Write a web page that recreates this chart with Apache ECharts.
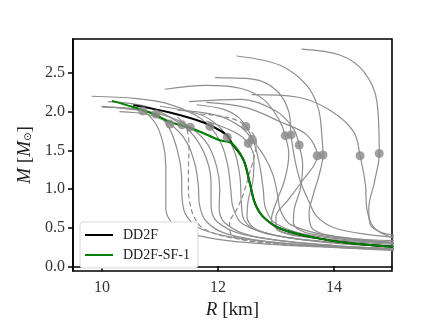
<!DOCTYPE html>
<html><head><meta charset="utf-8">
<script src="https://cdn.jsdelivr.net/npm/echarts@6/dist/echarts.min.js"></script>
<style>html,body{margin:0;padding:0;background:#fff}#c{width:436px;height:327px}</style>
</head><body><div id="c"></div>
<script>
// ---- data: [R (km), M (Msun)] ----
const g1 = [[10.0,2.06],[10.4,2.05],[10.70,2.01],[10.92,1.85],[11.05,1.6],[11.1,1.3],[11.1,1.0],[11.1,0.75],[11.22,0.55],[11.5,0.43],[12.2,0.33],[13.5,0.26],[15.2,0.21]];
const g2 = [[9.99,2.07],[10.5,2.03],[10.93,1.97],[11.15,1.8],[11.3,1.5],[11.37,1.2],[11.38,0.9],[11.45,0.66],[11.75,0.47],[12.6,0.34],[14,0.26],[15.2,0.23]];
const g3 = [[10.3,2.0],[10.8,1.96],[11.17,1.84],[11.45,1.62],[11.6,1.33],[11.66,1.05],[11.68,0.8],[11.8,0.58],[12.15,0.42],[13.1,0.3],[15.2,0.2]];
const g4 = [[10.1,2.13],[10.8,2.06],[11.38,1.83],[11.65,1.62],[11.82,1.35],[11.88,1.08],[11.88,0.8],[11.98,0.58],[12.45,0.41],[13.6,0.29],[15.2,0.22]];
const g5 = [[10.5,2.04],[11.1,1.95],[11.52,1.80],[11.82,1.58],[11.98,1.28],[12.03,1.0],[12.02,0.76],[12.12,0.56],[12.6,0.39],[14,0.27],[15.2,0.23]];
const g6 = [[9.82,2.20],[10.6,2.17],[11.1,2.11],[11.6,1.96],[11.86,1.81],[12.06,1.58],[12.17,1.3],[12.22,1.0],[12.26,0.76],[12.42,0.55],[13,0.4],[14,0.3],[15.2,0.25]];
const g7 = [[11.0,2.07],[11.7,1.96],[12.0,1.82],[12.16,1.67],[12.3,1.45],[12.38,1.15],[12.4,0.85],[12.45,0.6],[12.8,0.43],[14,0.31],[15.2,0.26]];
const g8 = [[11.63,2.09],[12.1,2.03],[12.35,1.93],[12.48,1.81],[12.62,1.6],[12.72,1.3],[12.78,1.0],[12.82,0.75],[13.0,0.55],[13.6,0.4],[15.2,0.29]];
const g9 = [[11.3,2.02],[12.0,1.95],[12.4,1.8],[12.59,1.64],[12.8,1.42],[12.95,1.18],[13.02,0.95],[13.08,0.72],[13.25,0.54],[13.9,0.4],[15.2,0.3]];
const g10 = [[11.8,1.88],[12.3,1.73],[12.52,1.59],[12.62,1.4],[12.6,1.1],[12.52,0.85],[12.5,0.64],[12.68,0.47],[13.4,0.35],[15.2,0.26]];
const g11 = [[11.08,2.29],[11.8,2.34],[12.4,2.3],[12.8,2.15],[13.05,1.9],[13.16,1.69],[13.22,1.45],[13.15,1.12],[13.0,0.82],[12.92,0.6],[13.1,0.45],[14,0.34],[15.2,0.28]];
const g12 = [[11.95,2.44],[12.6,2.42],[13.0,2.28],[13.22,2.0],[13.26,1.70],[13.32,1.4],[13.42,1.1],[13.56,0.85],[13.7,0.65],[14.0,0.5],[14.6,0.41],[15.2,0.37]];
const g13 = [[11.5,2.13],[12.4,2.16],[13.0,2.01],[13.3,1.78],[13.40,1.57],[13.46,1.3],[13.42,1.0],[13.32,0.76],[13.3,0.56],[13.6,0.42],[15.2,0.3]];
const g14 = [[11.8,2.12],[12.5,2.05],[13.07,1.87],[13.53,1.70],[13.71,1.43],[13.45,1.1],[13.2,0.85],[13.0,0.64],[13.0,0.5],[13.5,0.38],[15.2,0.3]];
const g15 = [[12.32,2.72],[13.07,2.6],[13.53,2.34],[13.73,2.04],[13.79,1.70],[13.81,1.44],[13.75,1.2],[13.64,0.92],[13.57,0.69],[13.64,0.48],[14.2,0.37],[15.2,0.33]];
const g16 = [[12.58,2.22],[13.36,2.19],[13.93,2.02],[14.34,1.74],[14.45,1.43],[14.54,1.07],[14.57,0.73],[14.68,0.51],[14.97,0.38],[15.2,0.36]];
const g17 = [[13.44,2.81],[14.11,2.73],[14.51,2.52],[14.74,2.13],[14.78,1.46],[14.7,1.1],[14.6,0.75],[14.62,0.55],[14.85,0.43],[15.2,0.4]];
const dash1 = [[11.3,1.93],[11.45,1.8],[11.5,1.55],[11.49,1.25],[11.49,1.0],[11.52,0.8],[11.6,0.62],[11.77,0.48],[12.3,0.36],[13.5,0.27],[15.2,0.22]];
const dash2 = [[11.7,1.97],[12.2,1.92],[12.47,1.82],[12.66,1.6],[12.6,1.35],[12.52,1.15],[12.44,0.94],[12.32,0.73],[12.2,0.56],[12.22,0.42],[12.6,0.32],[14,0.25],[15.2,0.22]];
const dots = [[10.70,2.01],[10.93,1.97],[11.17,1.84],[11.38,1.83],[11.52,1.80],[11.86,1.81],[12.16,1.67],[12.48,1.81],[12.59,1.64],[12.52,1.59],[13.16,1.69],[13.26,1.70],[13.40,1.57],[13.71,1.43],[13.81,1.44],[14.45,1.43],[14.78,1.46]];
const dd2fLow = [[15.2,0.245],[14.22,0.305],[13.64,0.375],[13.07,0.49],[12.78,0.64],[12.64,0.81],[12.55,1.07],[12.44,1.375],[12.24,1.59]];
const dd2fUpper = [[12.15,1.70],[11.75,1.86],[11.17,1.99],[10.54,2.085]];
const sfUpper = [[12.03,1.63],[11.63,1.76],[11.17,1.87],[10.88,1.97],[10.54,2.06],[10.17,2.14]];
const xTicks = [10, 12, 14];
const yTicks = [0, 0.5, 1.0, 1.5, 2.0, 2.5];

const serif = 'Liberation Serif';
const greyCurves = [g1,g2,g3,g4,g5,g6,g7,g8,g9,g10,g11,g12,g13,g14,g15,g16,g17];
const series = [];
greyCurves.forEach((d, i) => series.push({
  type: 'line', name: 'grey' + i, data: d, showSymbol: false, symbol: 'none', smooth: 0.35,
  silent: true, z: 1, lineStyle: { color: '#8e8e8e', width: 1.2 }
}));
[dash1, dash2].forEach((d, i) => series.push({
  type: 'line', name: 'dash' + i, data: d, showSymbol: false, symbol: 'none', smooth: 0.35,
  silent: true, z: 1, lineStyle: { color: '#8e8e8e', width: 1.2, type: [5, 3] }
}));
series.push({
  type: 'line', name: 'DD2F', data: dd2fLow.concat(dd2fUpper), showSymbol: false, symbol: 'none',
  smooth: 0.35, z: 3, lineStyle: { color: '#000', width: 2 }, itemStyle: { color: '#000' }
});
series.push({
  type: 'line', name: 'DD2F-SF-1', data: dd2fLow.concat(sfUpper), showSymbol: false, symbol: 'none',
  smooth: 0.35, z: 4, lineStyle: { color: '#008000', width: 2 }, itemStyle: { color: '#008000' }
});
series.push({
  type: 'scatter', name: 'dots', data: dots, symbolSize: 9, z: 5,
  itemStyle: { color: '#888888' }
});

const chart = echarts.init(document.getElementById('c'), null, { renderer: 'canvas' });
chart.setOption({
  animation: false,
  backgroundColor: '#fff',
  grid: { left: 73, right: 44, top: 39, bottom: 56, show: true, borderColor: '#000', borderWidth: 1.6, backgroundColor: 'transparent' },
  legend: {
    data: [{ name: 'DD2F', icon: 'rect' }, { name: 'DD2F-SF-1', icon: 'rect' }],
    orient: 'vertical', left: 80, top: 222,
    itemWidth: 28, itemHeight: 2, itemGap: 6, padding: [6, 8, 6, 5],
    backgroundColor: '#fff', borderColor: '#d8d8d8', borderWidth: 1, borderRadius: 3,
    textStyle: { fontFamily: serif, fontSize: 14, color: '#222', padding: [0, 0, 0, 5], lineHeight: 12 }
  },
  xAxis: {
    type: 'value', min: 9.5, max: 15,
    name: '{i|R} [km]', nameLocation: 'middle', nameGap: 27,
    nameTextStyle: { fontFamily: serif, fontSize: 19, color: '#222', rich: { i: { fontFamily: serif, fontStyle: 'italic', fontSize: 19, color: '#222' } } },
    axisLine: { show: true, lineStyle: { color: '#000', width: 1.6 } },
    axisTick: { show: true, inside: false, length: 5, lineStyle: { color: '#000', width: 1.5 }, customValues: xTicks },
    axisLabel: { fontFamily: serif, fontSize: 16, color: '#333', margin: 9, customValues: xTicks, formatter: v => String(v) },
    splitLine: { show: false }
  },
  yAxis: {
    type: 'value', min: -0.06, max: 2.94,
    name: '{i|M} [{i|M}{s|⊙}]', nameLocation: 'middle', nameGap: 36, nameRotate: 90,
    nameTextStyle: { fontFamily: serif, fontSize: 19, color: '#222', rich: {
      i: { fontFamily: serif, fontStyle: 'italic', fontSize: 19, color: '#222' },
      s: { fontFamily: 'DejaVu Sans', fontSize: 10, color: '#222', padding: [8, 0, 0, 0] } } },
    axisLine: { show: true, lineStyle: { color: '#000', width: 1.6 } },
    axisTick: { show: true, inside: false, length: 5, lineStyle: { color: '#000', width: 1.5 }, customValues: yTicks },
    axisLabel: { fontFamily: serif, fontSize: 16, color: '#333', margin: 8, customValues: yTicks, formatter: v => v.toFixed(1) },
    splitLine: { show: false }
  },
  series: series
});
</script>
</body></html>
